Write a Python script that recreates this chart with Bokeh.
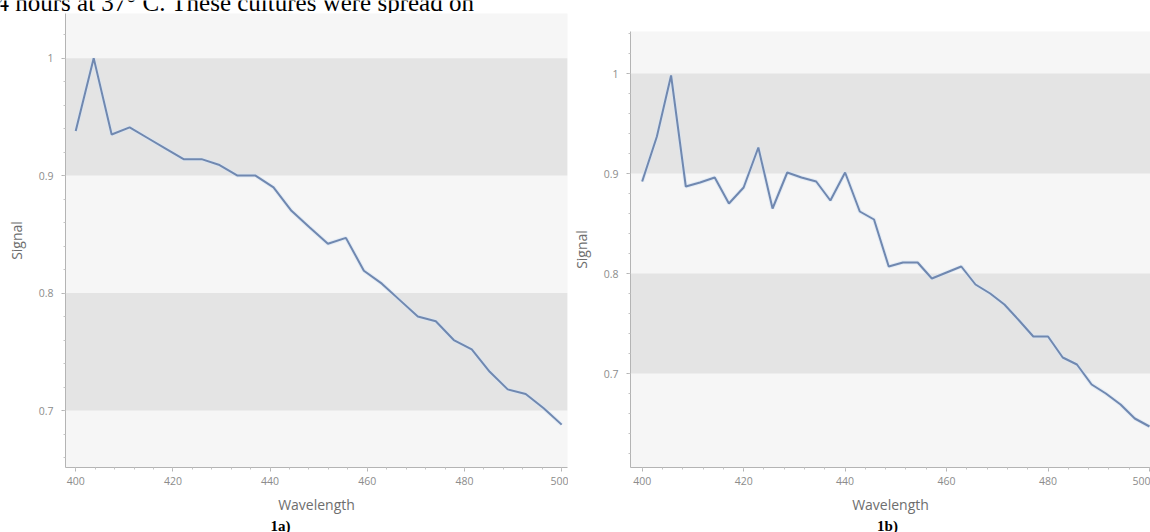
from bokeh.plotting import figure
from bokeh.layouts import row, column
from bokeh.models import (Range1d, SingleIntervalTicker, FixedTicker, NumeralTickFormatter,
                          Label, Spacer)
from bokeh.embed import file_html
from bokeh.resources import INLINE

# Spectrum 1a: wavelength (nm) and normalised signal
wavelength_a = [400.0, 403.7, 407.4, 411.1, 414.8, 418.5, 422.2, 425.9, 429.6, 433.3,
                437.0, 440.7, 444.4, 448.1, 451.9, 455.6, 459.3, 463.0, 466.7, 470.4,
                474.1, 477.8, 481.5, 485.2, 488.9, 492.6, 496.3, 500.0]
signal_a = [0.938, 1.000, 0.935, 0.941, 0.932, 0.923, 0.914, 0.914, 0.909, 0.900,
            0.900, 0.890, 0.870, 0.856, 0.842, 0.847, 0.819, 0.808, 0.794, 0.780,
            0.776, 0.760, 0.752, 0.733, 0.718, 0.714, 0.702, 0.688]

# Spectrum 1b
wavelength_b = [400.0, 402.9, 405.7, 408.6, 411.4, 414.3, 417.1, 420.0, 422.9, 425.7,
                428.6, 431.4, 434.3, 437.1, 440.0, 442.9, 445.7, 448.6, 451.4, 454.3,
                457.1, 460.0, 462.9, 465.7, 468.6, 471.4, 474.3, 477.1, 480.0, 482.9,
                485.7, 488.6, 491.4, 494.3, 497.1, 500.0]
signal_b = [0.892, 0.937, 0.998, 0.887, 0.891, 0.896, 0.870, 0.886, 0.926, 0.865,
            0.901, 0.896, 0.892, 0.873, 0.901, 0.862, 0.854, 0.807, 0.811, 0.811,
            0.795, 0.801, 0.807, 0.789, 0.780, 0.769, 0.753, 0.737, 0.737, 0.716,
            0.709, 0.689, 0.680, 0.669, 0.655, 0.647]

# Grid ticks; every other interval (0.7-0.8, 0.9-1.0) is shaded
band_ticks = [0.7, 0.8, 0.9, 1.0]

UI_FONT = "Open Sans"
SERIF = "Liberation Serif"
LINE_COLOR = "#7088b0"


def text_strip(width, height):
    """Blank canvas used for the running text and the captions."""
    s = figure(width=width, height=height, output_backend="svg", toolbar_location=None,
               x_range=Range1d(0, 1), y_range=Range1d(0, 1),
               min_border_left=0, min_border_right=0,
               min_border_top=0, min_border_bottom=0)
    s.axis.visible = False
    s.grid.visible = False
    s.outline_line_color = None
    s.background_fill_color = "white"
    s.border_fill_color = "white"
    return s


def spectrum_panel(xs, ys, x_range, y_range, width, height, left, right):
    p = figure(width=width, height=height, output_backend="svg", toolbar_location=None,
               x_range=Range1d(*x_range), y_range=Range1d(*y_range),
               min_border_left=left, min_border_right=right,
               min_border_top=0, min_border_bottom=50)
    p.background_fill_color = "#f6f6f6"
    p.border_fill_color = "white"
    p.outline_line_color = None

    p.xgrid.visible = False
    p.ygrid.ticker = FixedTicker(ticks=band_ticks)
    p.ygrid.grid_line_color = None
    p.ygrid.band_fill_color = "#e4e4e4"
    p.ygrid.band_fill_alpha = 1.0

    p.line(xs, ys, line_color="#d6e4f5", line_width=4, line_alpha=0.6)
    p.line(xs, ys, line_color=LINE_COLOR, line_width=2)

    p.xaxis.ticker = SingleIntervalTicker(interval=20, num_minor_ticks=5)
    p.yaxis.ticker = SingleIntervalTicker(interval=0.1, num_minor_ticks=5)
    p.yaxis.formatter = NumeralTickFormatter(format="0.[0]")

    for ax in (p.xaxis, p.yaxis):
        ax.axis_line_color = "#b4b4b4"
        ax.major_tick_line_color = "#b4b4b4"
        ax.minor_tick_line_color = "#c4c4c4"
        ax.major_tick_out = 4
        ax.major_tick_in = 0
        ax.minor_tick_out = 2
        ax.minor_tick_in = 0
        ax.major_label_text_font = UI_FONT
        ax.major_label_text_font_size = "10.5px"
        ax.major_label_text_color = "#8c8c8c"
        ax.axis_label_text_font = UI_FONT
        ax.axis_label_text_font_size = "14px"
        ax.axis_label_text_font_style = "normal"
        ax.axis_label_text_color = "#6e6e6e"

    p.xaxis.axis_label = "Wavelength"
    p.xaxis.major_label_standoff = 5
    p.xaxis.axis_label_standoff = 7
    p.yaxis.axis_label = "Signal"
    p.yaxis.major_label_standoff = 8
    p.yaxis.axis_label_standoff = 10
    return p


# left panel: frame x 65..567, y 13..467 ; right panel: frame x 630..1150, y 31..467
p1 = spectrum_panel(wavelength_a, signal_a, (397.9, 501.2), (0.6515, 1.038), 568, 504, 65, 1)
p2 = spectrum_panel(wavelength_b, signal_b, (397.7, 500.2), (0.606, 1.042), 582, 486, 62, 0)

# running text of the page above the figures (its top runs off the page)
top = text_strip(1150, 13)
top.add_layout(Label(x=-4, y=11.5, x_units="screen", y_units="screen",
                     text="4 hours at 37° C. These cultures were spread on",
                     text_font=SERIF, text_font_size="25px", text_color="black",
                     text_align="left", text_baseline="alphabetic"))

# figure captions
bottom = text_strip(1150, 15)
for caption, cx in (("1a)", 280), ("1b)", 887)):
    bottom.add_layout(Label(x=cx, y=7, x_units="screen", y_units="screen",
                            text=caption, text_font=SERIF, text_font_style="bold",
                            text_font_size="15px", text_color="black",
                            text_align="center", text_baseline="middle"))

panels = row(column(p1), column(Spacer(width=582, height=18), p2), spacing=0)
layout = column(top, panels, bottom, spacing=0)
open("out.html", "w").write(file_html(layout, INLINE))
